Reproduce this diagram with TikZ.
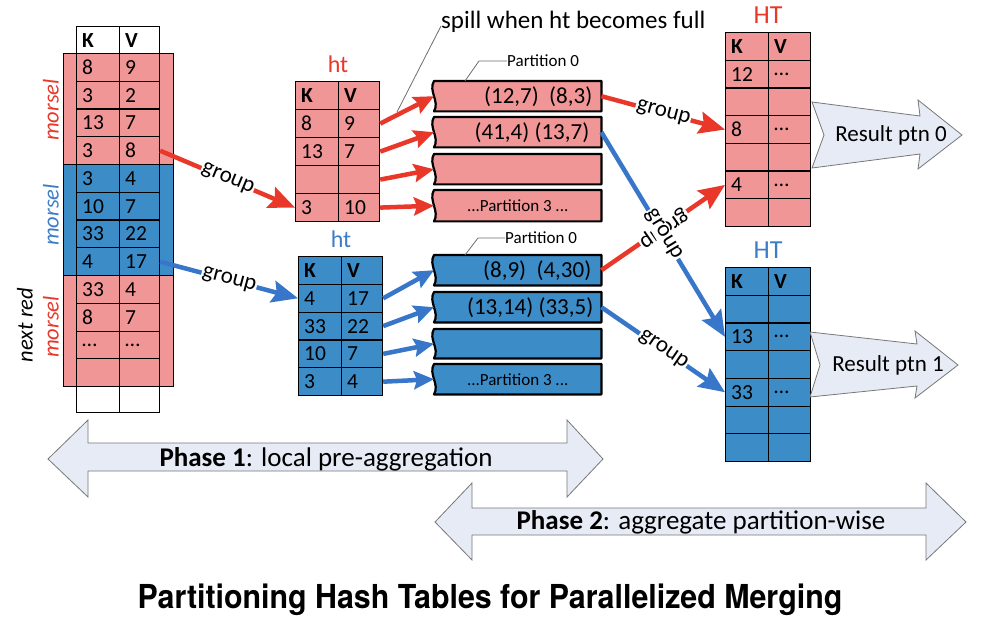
\documentclass[tikz,border=0pt]{standalone}
\usepackage{fontspec}
\setmainfont{Carlito}
\newfontfamily\titlefont[FakeStretch=0.92]{TeX Gyre Heros}
\usetikzlibrary{arrows.meta}
\definecolor{pinkF}{RGB}{240,150,150}
\definecolor{blueF}{RGB}{60,140,200}
\definecolor{redA}{RGB}{233,56,41}
\definecolor{blueA}{RGB}{55,118,200}
\definecolor{blueT}{RGB}{61,125,200}
\definecolor{phaseF}{RGB}{230,235,245}
\definecolor{leadG}{RGB}{110,110,110}
\definecolor{blockG}{RGB}{120,120,120}
\newcommand{\fsz}[1]{\fontsize{#1}{#1}\selectfont}
\newcommand{\kvcell}[7]{%
  \node[cellbox, fill=#6, minimum width=#4pt, minimum height=#5pt, anchor=north west] (#1) at ({#2},{#3}) {};
  \node[celltext] (#1t) at ([xshift=6pt]#1.west) {#7};}
\newcommand{\kvtab}[8]{%
  \foreach [count=\i from 0] \k/\v in {#8} {%
    \kvcell{#1-\i-1}{#2}{#5+\i*#6}{#3}{#6}{#7}{\k}%
    \kvcell{#1-\i-2}{#2+#3}{#5+\i*#6}{#4}{#6}{#7}{\v}%
  }}
\newcommand{\partbox}[4]{%
  \node[partarea, minimum height=#3pt, anchor=north west] (#1) at (434,{#2}) {};
  \draw[partline, fill=#4] (#1.south west) .. controls +(6,-10) and +(-6,10) .. (#1.north west) -- (#1.north east) -- (#1.south east) -- cycle;}
\begin{document}
\begin{tikzpicture}[x=1pt, y=-1pt,
  cellbox/.style={draw=black, line width=1.2pt, inner sep=0pt, rectangle},
  celltext/.style={anchor=west, inner sep=0pt, font=\fsz{21.5}},
  bandbox/.style={draw=black, line width=1.2pt, inner sep=0pt, minimum width=110pt, minimum height=111pt, anchor=north west},
  partarea/.style={inner sep=0pt, minimum width=167pt},
  partline/.style={draw=black, line width=2.2pt, line join=round},
  parttext/.style={anchor=east, inner sep=0pt, font=\fsz{23}},
  ptnthree/.style={inner sep=0pt, font=\fsz{17}},
  leader/.style={draw=leadG, line width=0.8pt},
  redarr/.style={draw=redA, line width=4.5pt, -{Stealth[length=20pt,width=18pt,inset=3pt]}},
  bluearr/.style={draw=blueA, line width=4.5pt, -{Stealth[length=20pt,width=18pt,inset=3pt]}},
  bigtip/.style={-{Stealth[length=26pt,width=22pt,inset=4pt]}},
  glabel/.style={pos=0.5, sloped, fill=white, inner sep=1pt, text=black, font=\fsz{23}},
  blockarr/.style={draw=blockG, line width=0.8pt, fill=phaseF, line join=miter},
  tablabel/.style={inner sep=0pt, font=\fsz{24}},
  sidelabel/.style={rotate=90, inner sep=0pt, font=\fsz{22.5}\itshape},
]
\useasboundingbox (0,0) rectangle (982,628);
\fill[white] (0,0) rectangle (982,628);

% ---------- left input table ----------
\node[bandbox, fill=pinkF] (band1) at (63,53) {};
\node[bandbox, fill=blueF] (band2) at (63,164) {};
\node[bandbox, fill=pinkF] (band3) at (63,275) {};
\kvcell{L-0-1}{76}{26}{43}{27}{white}{\bfseries K}
\kvcell{L-0-2}{119}{26}{40}{27}{white}{\bfseries V}
\foreach [count=\i] \k/\v/\c in {8/9/pinkF, 3/2/pinkF, 13/7/pinkF, 3/8/pinkF, 3/4/blueF, 10/7/blueF, 33/22/blueF, 4/17/blueF, 33/4/pinkF, 8/7/pinkF, {\ldots}/{\ldots}/pinkF, {}/{}/pinkF}{%
  \kvcell{L-\i-1}{76}{53+(\i-1)*27.75}{43}{27.75}{\c}{\k}
  \kvcell{L-\i-2}{119}{53+(\i-1)*27.75}{40}{27.75}{\c}{\v}
}
\kvcell{L-13-1}{76}{386}{43}{26}{white}{}
\kvcell{L-13-2}{119}{386}{40}{26}{white}{}

\node[sidelabel, text=redA] (morsel1) at (51,110) {morsel};
\node[sidelabel, text=blueT] (morsel2) at (51,215) {morsel};
\node[sidelabel, text=black] (nextred) at (25,325) {next red};
\node[sidelabel, text=redA] (morsel3) at (51,327) {morsel};

% ---------- local hash tables ----------
\node[tablabel, text=redA] (htR) at (338,64) {ht};
\kvtab{R}{295}{43}{41}{81}{28}{pinkF}{{\bfseries K}/{\bfseries V}, 8/9, 13/7, {}/{}, 3/10}
\node[tablabel, text=blueT] (htB) at (341,239) {ht};
\kvtab{B}{298}{43}{41}{256}{27.8}{blueF}{{\bfseries K}/{\bfseries V}, 4/17, 33/22, 10/7, 3/4}

% ---------- global hash tables ----------
\node[tablabel, text=redA, font=\fsz{26}] (HTR) at (768,15) {HT};
\kvtab{RH}{725}{43}{42}{32}{27.7}{pinkF}{{\bfseries K}/{\bfseries V}, 12/{\ldots}, {}/{}, 8/{\ldots}, {}/{}, 4/{\ldots}, {}/{}}
\node[tablabel, text=blueT, font=\fsz{26}] (HTB) at (768,250) {HT};
\kvtab{BH}{725}{43}{42}{267}{27.7}{blueF}{{\bfseries K}/{\bfseries V}, {}/{}, 13/{\ldots}, {}/{}, 33/{\ldots}, {}/{}, {}/{}}

% ---------- partitions ----------
\partbox{rp1}{81}{30}{pinkF}
\partbox{rp2}{117}{30}{pinkF}
\partbox{rp3}{154}{30}{pinkF}
\partbox{rp4}{190}{31}{pinkF}
\node[parttext] (rp1t) at ([xshift=-9pt]rp1.east) {(12,7)\ \ (8,3)};
\node[parttext] (rp2t) at ([xshift=-12pt]rp2.east) {(41,4) (13,7)};
\node[ptnthree] (rp4t) at (rp4.center) {...Partition 3 ...};

\partbox{bp1}{255}{30}{blueF}
\partbox{bp2}{292}{30}{blueF}
\partbox{bp3}{329}{29}{blueF}
\partbox{bp4}{364}{30}{blueF}
\node[parttext] (bp1t) at ([xshift=-10pt]bp1.east) {(8,9)\ \ (4,30)};
\node[parttext] (bp2t) at ([xshift=-8pt]bp2.east) {(13,14) (33,5)};
\node[ptnthree] (bp4t) at (bp4.center) {...Partition 3 ...};

\node[anchor=west, inner sep=0pt, font=\fsz{17}] (rp0) at (507,61) {Partition 0};
\draw[leader] ([xshift=31pt]rp1.north west) -- ++(14,-20) -- (rp0.west);
\node[anchor=west, inner sep=0pt, font=\fsz{17}] (bp0) at (505,238) {Partition 0};
\draw[leader] ([xshift=31pt]bp1.north west) -- ++(13,-17) -- (bp0.west);

% ---------- spill note ----------
\node[anchor=west, inner sep=0pt, font=\fsz{25}] (spill) at (441,22) {spill when ht becomes full};
\coordinate (spillend) at (397,112);
\draw[leader] ([yshift=-4pt]spill.west) -- (spillend);

% ---------- result arrows ----------
\draw[blockarr] (812,102) -- (920,116) -- (918,100) -- (962,135) -- (918,169) -- (920,154) -- (812,168) -- (824,135) -- cycle;
\node[inner sep=0pt, font=\fsz{23}] (res0) at (891,135) {Result ptn 0};
\draw[blockarr] (810,332) -- (917,344) -- (915,331) -- (958,365) -- (915,398) -- (917,386) -- (810,397) -- (820,365) -- cycle;
\node[inner sep=0pt, font=\fsz{23}] (res1) at (888,365) {Result ptn 1};

% ---------- phase arrows ----------
\draw[blockarr] (48,459) -- (88,420) -- (88,443) -- (567,443) -- (567,420) -- (603,459) -- (567,497) -- (567,471) -- (88,471) -- (88,497) -- cycle;
\node[inner sep=0pt, font=\fsz{27}] (ph1) at (326,459) {\textbf{Phase 1}: local pre-aggregation};
\draw[blockarr] (435,522) -- (472,483) -- (472,508) -- (926,508) -- (926,483) -- (966,522) -- (926,560) -- (926,535) -- (472,535) -- (472,560) -- cycle;
\node[inner sep=0pt, font=\fsz{27}] (ph2) at (701,522) {\textbf{Phase 2}: aggregate partition-wise};

% ---------- connectors ----------
\draw[redarr, bigtip] (L-4-2.east) -- node[glabel] (g1) {group} (R-4-1.west);
\draw[bluearr, bigtip] (L-8-2.east) -- node[glabel] (g2) {group} (B-1-1.west);
\foreach \j in {1,...,4} \draw[redarr] (R-\j-2.east) -- (rp\j.west);
\foreach \j in {1,...,4} \draw[bluearr] (B-\j-2.east) -- (bp\j.west);
\draw[redarr, bigtip] (rp1.east) -- node[glabel] (g3) {group} (RH-3-1.west);
\draw[redarr, bigtip] (bp1.east) -- node[glabel, rotate=180] (g4) {group} (RH-5-1.west);
\draw[bluearr, bigtip] (rp2.east) -- node[glabel] (g5) {group} (BH-2-1.west);
\draw[bluearr, bigtip] (bp2.east) -- node[glabel] (g6) {group} (BH-4-1.west);

% ---------- title ----------
\node[inner sep=0pt, font=\titlefont\bfseries\fsz{33}] (title) at (490,600) {Partitioning Hash Tables for Parallelized Merging};
\end{tikzpicture}
\end{document}
